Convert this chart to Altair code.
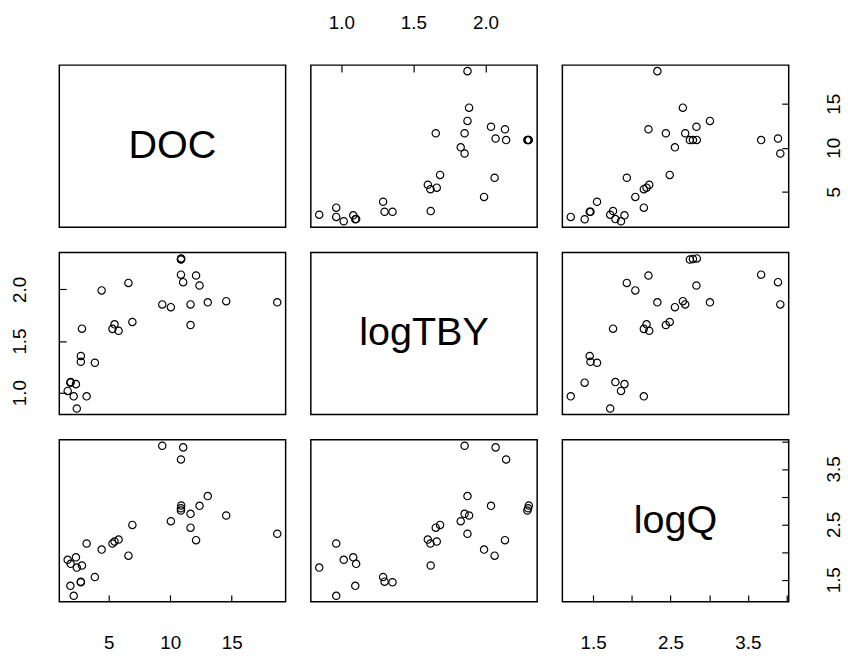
import altair as alt
import pandas as pd

# Scatterplot matrix of DOC, logTBY and logQ (31 observations)
doc = [18.7, 14.55, 13.05, 11.65, 11.65, 12.38, 12.1, 11.05, 10.87,
       10.87, 10.87, 10.89, 10.05, 9.35, 6.92, 5.8, 5.3, 5.47, 6.6,
       4.42, 3.87, 2.73, 2.73, 2.82, 2.4, 3.2, 2.15, 1.66, 2.33, 1.9, 1.88]
log_tby = [1.875, 1.886, 1.875, 1.855, 1.655, 2.038, 2.135, 2.07, 2.143,
           2.29, 2.295, 2.30, 1.828, 1.855, 1.685, 1.60, 1.618, 1.662, 2.063,
           1.99, 1.29, 1.30, 1.355, 1.62, 0.847, 0.965, 0.965, 1.017, 1.083,
           1.103, 1.097]
log_q = [2.33, 2.66, 3.01, 2.69, 2.44, 2.835, 2.215, 3.89, 3.672,
         2.75, 2.79, 2.84, 2.557, 3.92, 2.49, 2.225, 2.155, 2.19, 1.935,
         2.045, 1.55, 1.465, 1.455, 1.757, 1.72, 2.155, 1.21, 1.86, 1.905,
         1.787, 1.39]

variables = ["DOC", "logTBY", "logQ"]
tick_values = {
    "DOC": [5, 10, 15],
    "logTBY": [1.0, 1.5, 2.0],
    "logQ": [1.5, 2.0, 2.5, 3.0, 3.5, 4.0],
}
shown_labels = {
    "DOC": [5, 10, 15],
    "logTBY": [1.0, 1.5, 2.0],
    "logQ": [1.5, 2.5, 3.5],
}
label_format = {"DOC": "d", "logTBY": ".1f", "logQ": ".1f"}

df = pd.DataFrame({"DOC": doc, "logTBY": log_tby, "logQ": log_q})

# Axis ranges padded by 4% on each side
domains = {}
for v in variables:
    lo, hi = df[v].min(), df[v].max()
    pad = 0.04 * (hi - lo)
    domains[v] = [lo - pad, hi + pad]

W, H = 229, 164
FONT = "Liberation Sans"
LABEL_SIZE = 19


def make_axis(var, orient):
    shown = ", ".join(str(s) for s in shown_labels[var])
    expr = f"indexof([{shown}], datum.value) >= 0 ? format(datum.value, '{label_format[var]}') : ''"
    kw = dict(
        orient=orient, values=tick_values[var], title=None, grid=False,
        domain=False, offset=-7, tickSize=7, tickColor="black", tickWidth=1.2,
        labelExpr=expr, labelFont=FONT, labelFontSize=LABEL_SIZE,
        labelColor="black", labelFlush=False, labelOverlap=False,
        labelBound=False,
    )
    if orient == "top":
        kw.update(labelPadding=33, labelBaseline="bottom", labelAlign="center")
    elif orient == "bottom":
        kw.update(labelPadding=32, labelBaseline="top", labelAlign="center")
    elif orient == "left":
        kw.update(labelPadding=30, labelAngle=270, labelAlign="center",
                  labelBaseline="bottom")
    elif orient == "right":
        kw.update(labelPadding=36, labelAngle=270, labelAlign="center",
                  labelBaseline="top")
    return alt.Axis(**kw)


def scale(var):
    return alt.Scale(domain=domains[var], nice=False, zero=False)


def scatter(xvar, yvar, xaxis=None, yaxis=None):
    return alt.Chart(df).mark_point(
        shape="circle", filled=False, color="black", size=55,
        strokeWidth=1.2, opacity=1,
    ).encode(
        x=alt.X(f"{xvar}:Q", scale=scale(xvar), axis=xaxis),
        y=alt.Y(f"{yvar}:Q", scale=scale(yvar), axis=yaxis),
    ).properties(width=W, height=H)


def name_panel(var):
    return alt.Chart(pd.DataFrame({"name": [var]})).mark_text(
        font=FONT, fontSize=40, color="black", baseline="middle", align="center",
    ).encode(
        text="name:N", x=alt.value(W / 2), y=alt.value(H / 2),
    ).properties(width=W, height=H)


# Bottom-right diagonal panel carries the logQ axes (bottom and right)
frame_q = alt.Chart(df).mark_point(opacity=0).encode(
    x=alt.X("logQ:Q", scale=scale("logQ"), axis=make_axis("logQ", "bottom")),
    y=alt.Y("logQ:Q", scale=scale("logQ"), axis=make_axis("logQ", "right")),
)
diag_q = alt.layer(frame_q, name_panel("logQ")).properties(width=W, height=H)

panels = [
    name_panel("DOC"),
    scatter("logTBY", "DOC", xaxis=make_axis("logTBY", "top")),
    scatter("logQ", "DOC", yaxis=make_axis("DOC", "right")),
    scatter("DOC", "logTBY", yaxis=make_axis("logTBY", "left")),
    name_panel("logTBY"),
    scatter("logQ", "logTBY"),
    scatter("DOC", "logQ", xaxis=make_axis("DOC", "bottom")),
    scatter("logTBY", "logQ"),
    diag_q,
]

chart = alt.concat(*panels, columns=3, spacing=25.5, bounds="flush").properties(
    padding={"left": 10, "top": 9, "right": 4, "bottom": 4},
    background="white",
).configure_view(stroke="black", strokeWidth=1.5)

chart.save("out.html", embed_options={"renderer": "svg", "actions": False})
